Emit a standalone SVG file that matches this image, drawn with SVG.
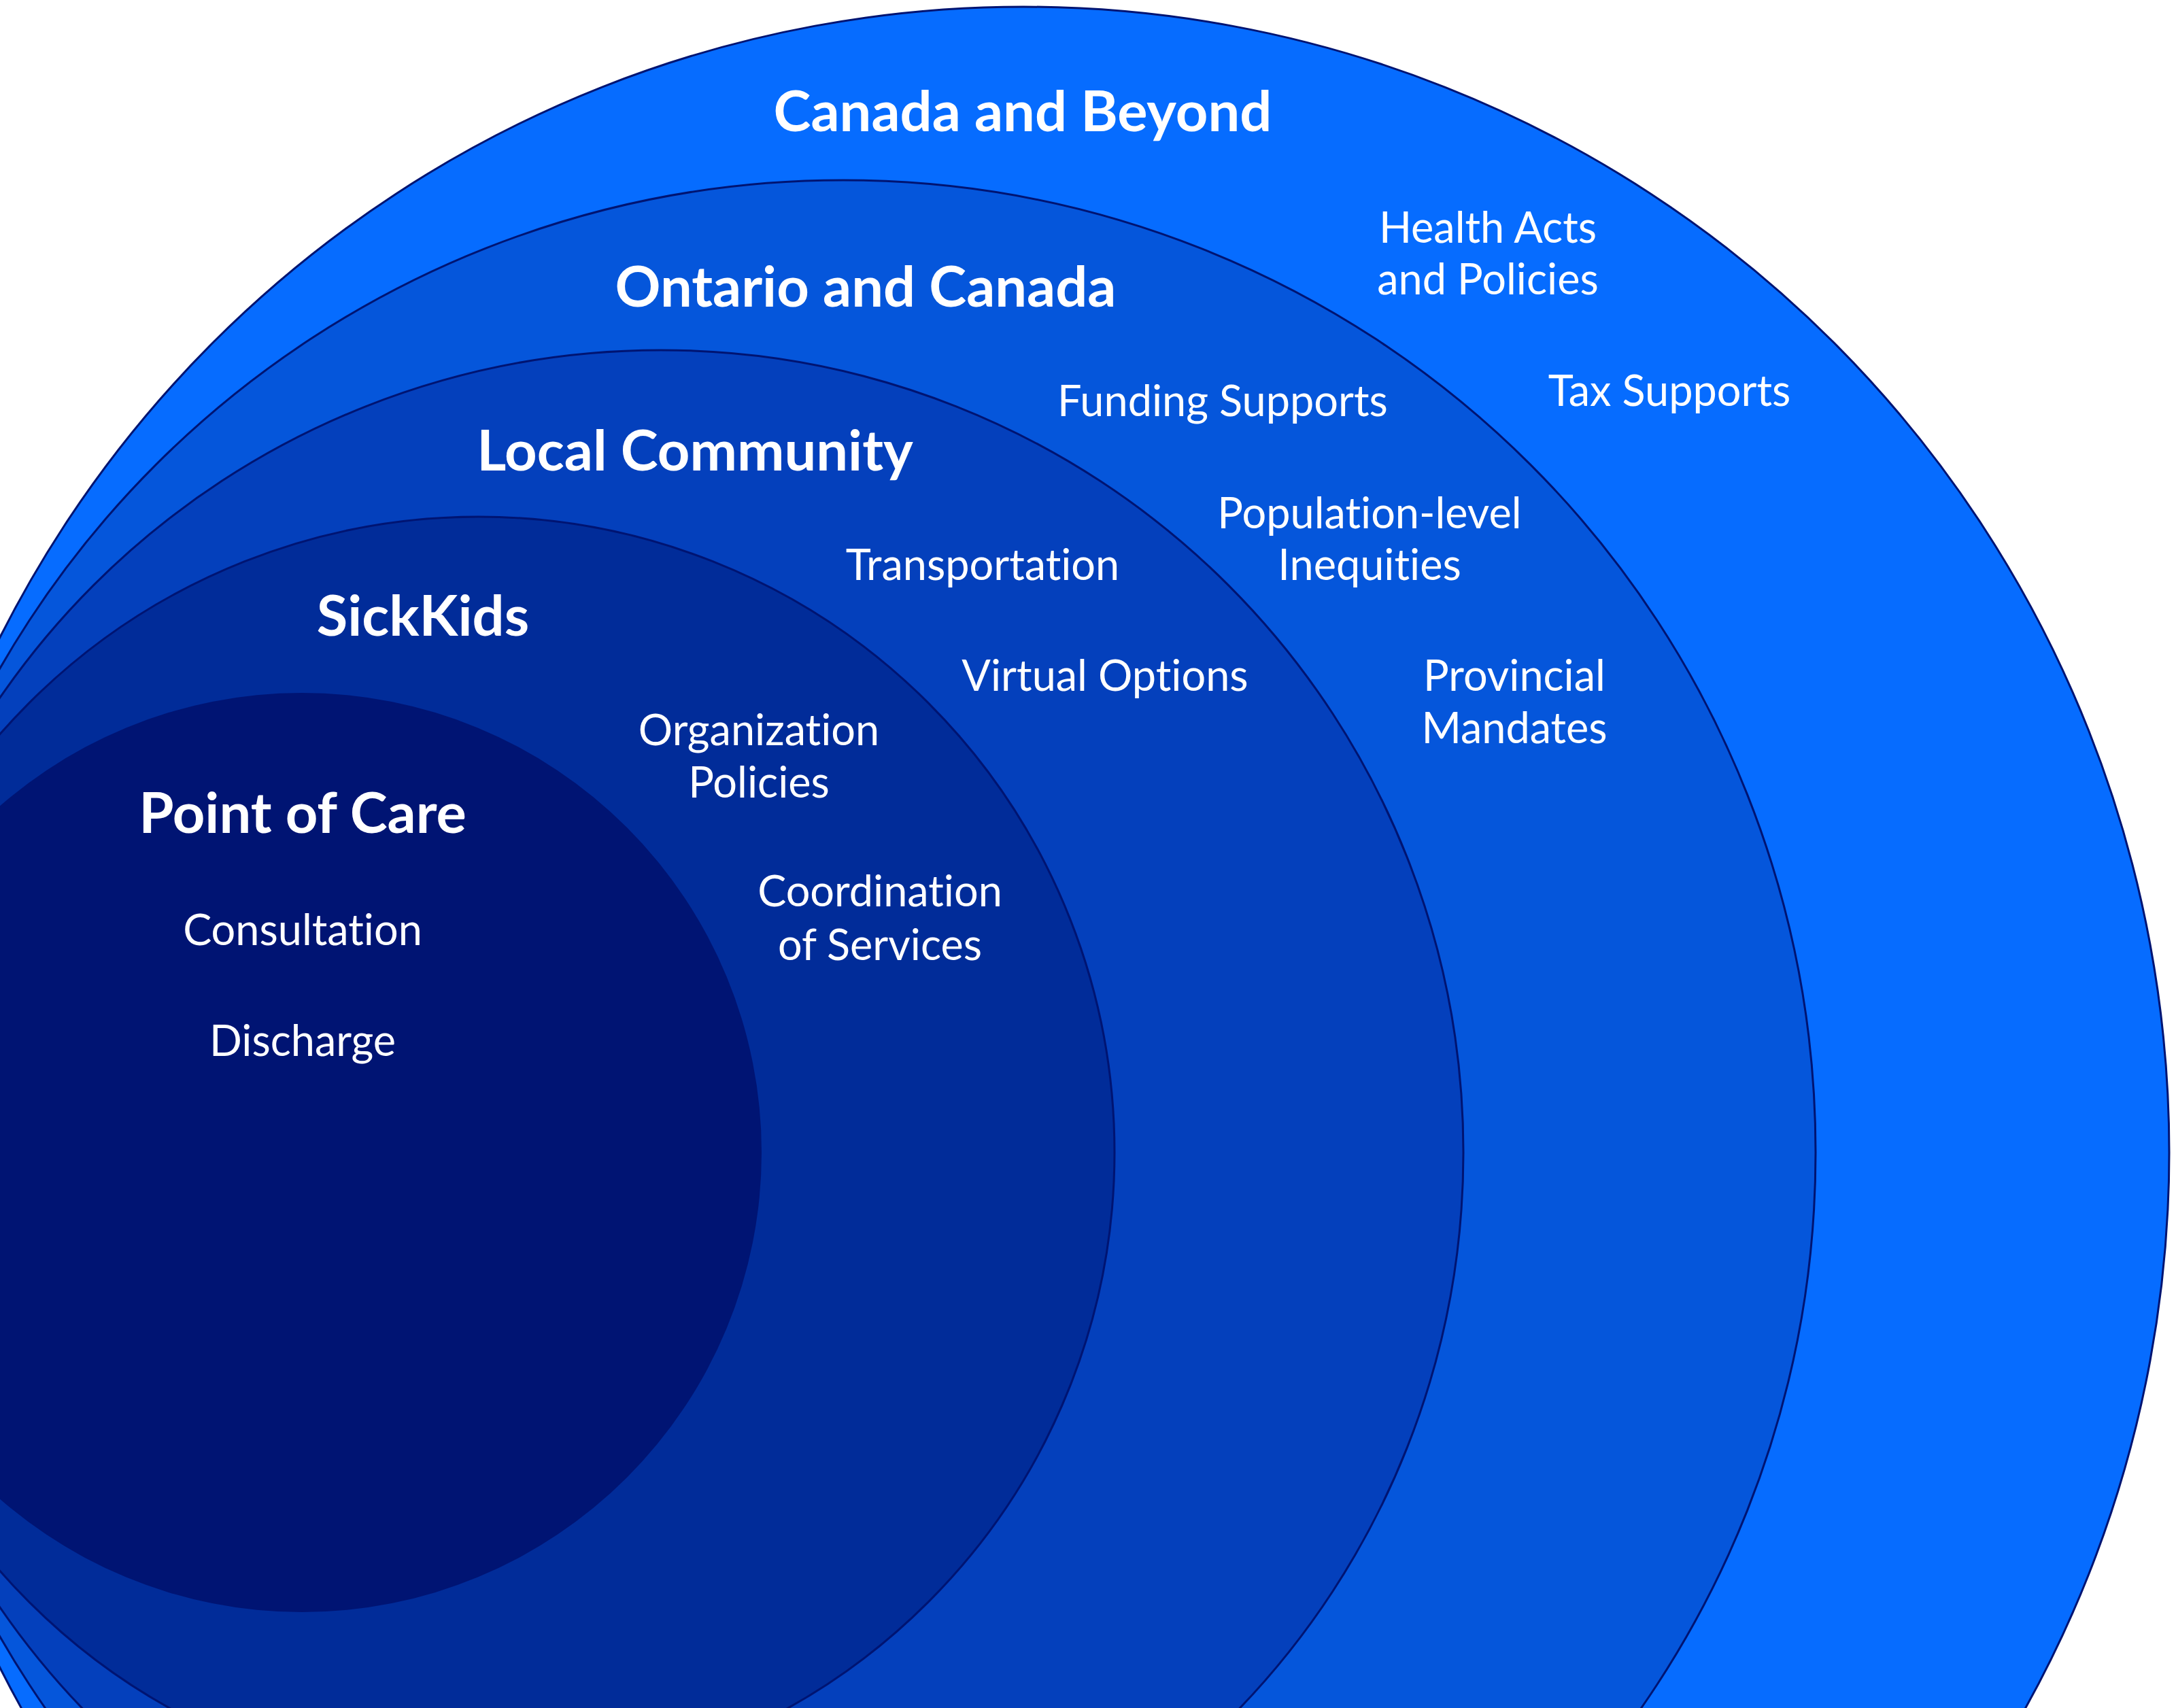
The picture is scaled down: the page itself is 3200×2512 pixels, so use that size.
<svg xmlns="http://www.w3.org/2000/svg" width="3200" height="2512" viewBox="0 0 3200 2512">
  <style>
    .ring { stroke: #001472; stroke-width: 3; }
    .title { font-family: Lato, "Liberation Sans", sans-serif; font-weight: 700; font-size: 83px; fill: #ffffff; text-anchor: middle; font-variant-ligatures: none; }
    .item { font-family: Lato, "Liberation Sans", sans-serif; font-weight: 400; font-size: 63px; fill: #ffffff; text-anchor: middle; font-variant-ligatures: none; }
  </style>
  <rect x="0" y="0" width="3200" height="2512" fill="#ffffff"/>

  <!-- outermost level -->
  <g id="canada-and-beyond">
    <circle class="ring" cx="1505" cy="1695" r="1685" fill="#066cff"/>
    <text class="title" x="1504" y="193">Canada and Beyond</text>
    <text class="item" x="2188" y="357">Health Acts</text>
    <text class="item" x="2188" y="433">and Policies</text>
    <text class="item" x="2455" y="597">Tax Supports</text>
  </g>

  <g id="ontario-and-canada">
    <circle class="ring" cx="1240" cy="1695" r="1430" fill="#0556db"/>
    <text class="title" x="1273" y="451">Ontario and Canada</text>
    <text class="item" x="1798" y="612">Funding Supports</text>
    <text class="item" x="2014" y="777">Population-level</text>
    <text class="item" x="2014" y="853">Inequities</text>
    <text class="item" x="2227" y="1016">Provincial</text>
    <text class="item" x="2227" y="1093">Mandates</text>
  </g>

  <g id="local-community">
    <circle class="ring" cx="972" cy="1695" r="1180" fill="#0440bc"/>
    <text class="title" x="1022" y="692">Local Community</text>
    <text class="item" x="1445" y="853">Transportation</text>
    <text class="item" x="1625" y="1016">Virtual Options</text>
  </g>

  <g id="sickkids">
    <circle class="ring" cx="704" cy="1695" r="935" fill="#012c99"/>
    <text class="title" x="622" y="935">SickKids</text>
    <text class="item" x="1116" y="1096">Organization</text>
    <text class="item" x="1116" y="1173">Policies</text>
    <text class="item" x="1294" y="1333">Coordination</text>
    <text class="item" x="1294" y="1412">of Services</text>
  </g>

  <!-- innermost level -->
  <g id="point-of-care">
    <circle cx="444" cy="1695" r="676" fill="#001473"/>
    <text class="title" x="445" y="1225">Point of Care</text>
    <text class="item" x="445" y="1390">Consultation</text>
    <text class="item" x="445" y="1553">Discharge</text>
  </g>
</svg>
